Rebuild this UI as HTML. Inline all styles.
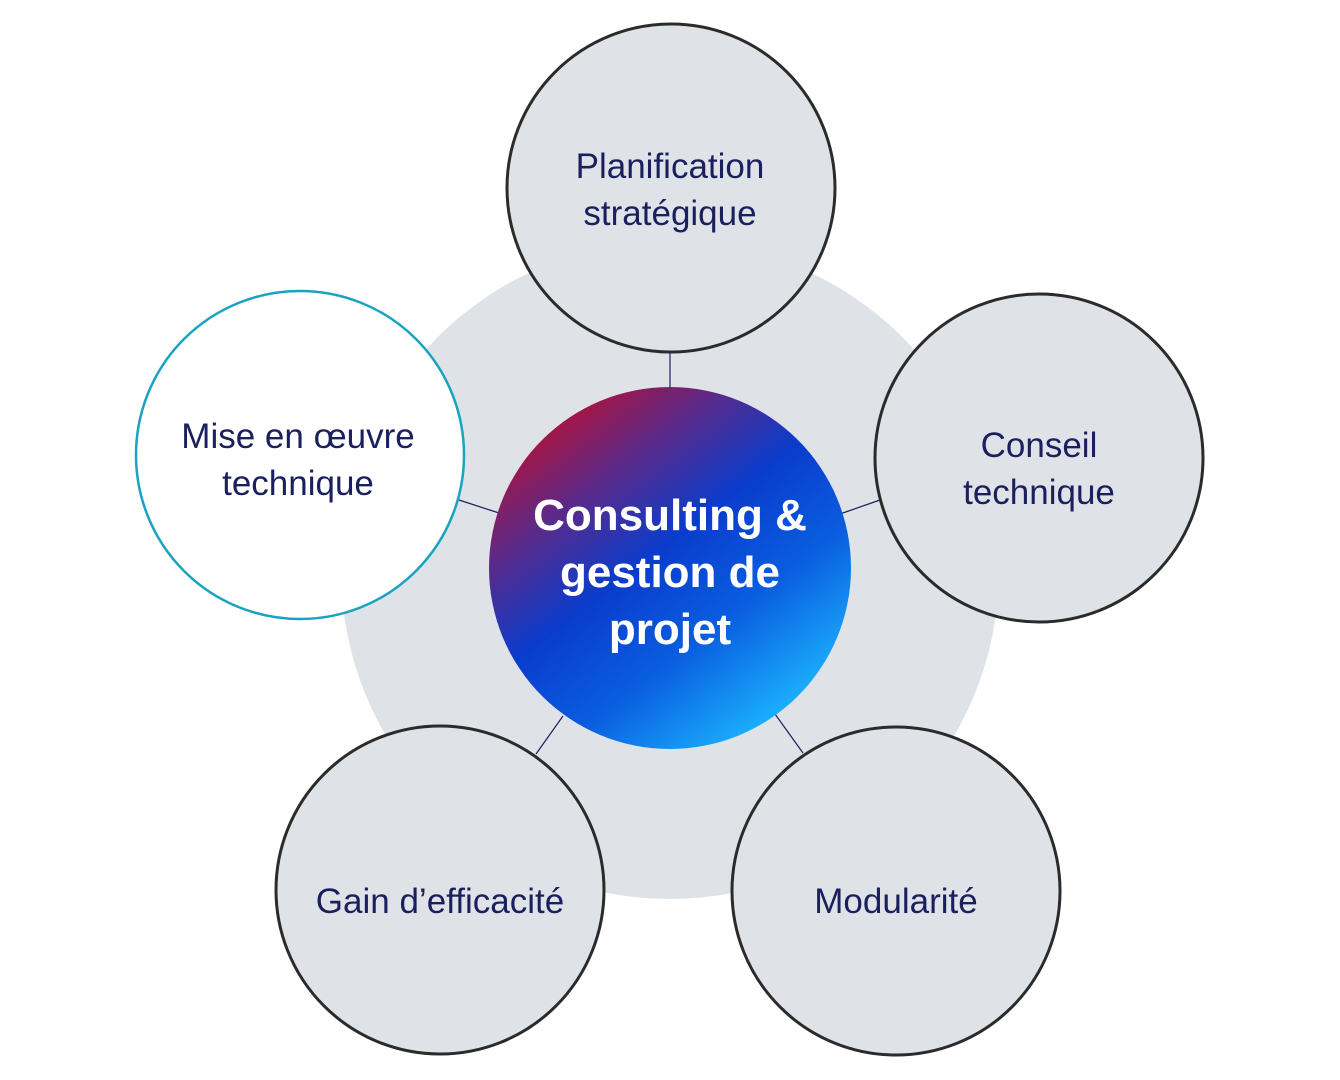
<!DOCTYPE html>
<html><head><meta charset="utf-8"><style>
html,body{margin:0;padding:0;background:#fff;}
svg{display:block}
text{font-family:"Liberation Sans",sans-serif;}
</style></head><body>
<svg width="1340" height="1080" viewBox="0 0 1340 1080" xmlns="http://www.w3.org/2000/svg">
<defs>
<linearGradient id="g" x1="0.2" y1="0.05" x2="0.85" y2="0.9">
<stop offset="0" stop-color="#b0123a"/>
<stop offset="0.22" stop-color="#5a2a8a"/>
<stop offset="0.45" stop-color="#0a3ccc"/>
<stop offset="0.7" stop-color="#0a5ee0"/>
<stop offset="1" stop-color="#1cb6ff"/>
</linearGradient>
</defs>
<circle cx="670" cy="570" r="329" fill="#dfe3e7"/>
<g stroke="#1a1f5e" stroke-width="1.2">
<line x1="670" y1="353" x2="670" y2="388"/>
<line x1="840" y1="514" x2="880" y2="500"/>
<line x1="775" y1="714" x2="803" y2="753"/>
<line x1="563" y1="716" x2="536" y2="754"/>
<line x1="499" y1="513" x2="459" y2="500"/>
</g>
<g stroke="#2b2b2b" stroke-width="3" fill="#dfe3e7">
<circle cx="671" cy="188" r="164"/>
<circle cx="1039" cy="458" r="164"/>
<circle cx="896" cy="891" r="164"/>
<circle cx="440" cy="890" r="164"/>
</g>
<circle cx="300" cy="455" r="164" fill="#fff" stroke="#1aa3c0" stroke-width="2.5"/>
<circle cx="670" cy="568" r="181" fill="url(#g)"/>
<g fill="#1a1f5e" font-size="35" text-anchor="middle">
<text x="670" y="178">Planification</text>
<text x="670" y="225">stratégique</text>
<text x="1039" y="457">Conseil</text>
<text x="1039" y="504">technique</text>
<text x="298" y="448">Mise en œuvre</text>
<text x="298" y="495">technique</text>
<text x="440" y="913">Gain d’efficacité</text>
<text x="896" y="913">Modularité</text>
</g>
<g fill="#fff" font-size="44" font-weight="bold" text-anchor="middle">
<text x="670" y="530">Consulting &amp;</text>
<text x="670" y="587">gestion de</text>
<text x="670" y="644">projet</text>
</g>
</svg>
</body></html>
